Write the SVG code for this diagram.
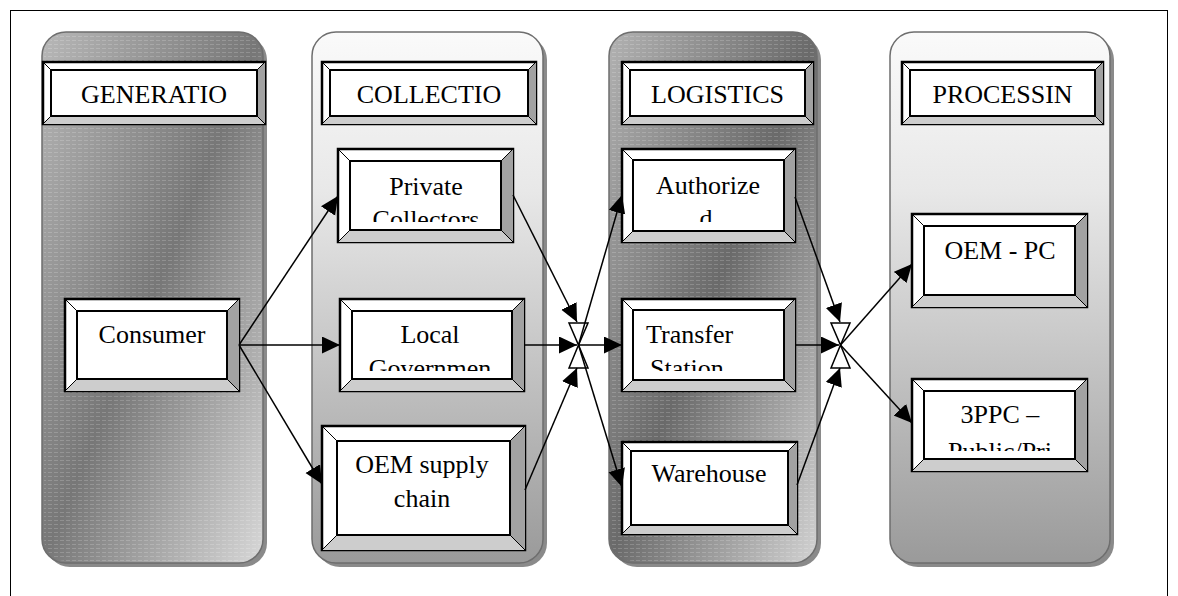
<svg xmlns="http://www.w3.org/2000/svg" width="1178" height="596" viewBox="0 0 1178 596">
<style>
.frame{fill:none;stroke:#000;stroke-width:1}
.col{stroke:#6e6e6e;stroke-width:1.5}
.shadow{fill:#8a8a8a}
.tex{fill:url(#tex);stroke:none}
.out{fill:#fff;stroke:#000;stroke-width:2.5}
.rb{fill:#a2a2a2;stroke:none}
.bb{fill:#cdcdcd;stroke:none}
.in{fill:#fff;stroke:#000;stroke-width:2}
.dg{stroke:#000;stroke-width:1;fill:none}
.t{font-family:"Liberation Serif","Times New Roman",serif;font-size:26px;fill:#000;text-anchor:middle}
.ts{text-anchor:start}
.ln{stroke:#000;stroke-width:1.5;fill:none;marker-end:url(#ah)}
.jn{fill:#fff;stroke:#000;stroke-width:1.5}
</style>
<defs>
<linearGradient id="gDark1" x1="0" y1="0" x2="1" y2="1">
<stop offset="0" stop-color="#b8b8b8"/><stop offset="0.5" stop-color="#777"/><stop offset="1" stop-color="#d8d8d8"/>
</linearGradient>
<linearGradient id="gDark3" x1="0" y1="0" x2="1" y2="1">
<stop offset="0" stop-color="#b2b2b2"/><stop offset="0.5" stop-color="#6a6a6a"/><stop offset="1" stop-color="#d2d2d2"/>
</linearGradient>
<linearGradient id="gLight" x1="0" y1="0" x2="0" y2="1">
<stop offset="0" stop-color="#fafafa"/><stop offset="0.3" stop-color="#e8e8e8"/><stop offset="1" stop-color="#9a9a9a"/>
</linearGradient>
<pattern id="tex" width="6" height="4" patternUnits="userSpaceOnUse">
<rect x="0" y="0" width="4" height="1" fill="#fff" fill-opacity="0.18"/>
</pattern>
<marker id="ah" markerUnits="userSpaceOnUse" markerWidth="20" markerHeight="18" refX="18" refY="8.5" orient="auto">
<path d="M0,0 L18,8.5 L0,17 z" fill="#000"/>
</marker>
<clipPath id="cPriv"><rect x="350" y="161" width="151" height="61"/></clipPath>
<clipPath id="cLocal"><rect x="352" y="311" width="160" height="60"/></clipPath>
<clipPath id="cAuth"><rect x="633" y="160" width="151" height="62"/></clipPath>
<clipPath id="cTrans"><rect x="633" y="310" width="151" height="61"/></clipPath>
<clipPath id="c3ppc"><rect x="924" y="391" width="151" height="60"/></clipPath>
</defs>

<rect class="frame" x="10.5" y="10.5" width="1157" height="600"/>

<g id="lane-generation">
<rect class="shadow" x="46" y="36" width="221" height="531" rx="24"/>
<rect class="col" x="42" y="32" width="221" height="531" rx="24" fill="url(#gDark1)"/>
<rect class="tex" x="44" y="34" width="217" height="527" rx="22"/>
</g>
<g id="lane-collection">
<rect class="shadow" x="316" y="36" width="231" height="531" rx="24"/>
<rect class="col" x="312" y="32" width="231" height="531" rx="24" fill="url(#gLight)"/>
</g>
<g id="lane-logistics">
<rect class="shadow" x="613" y="36" width="208" height="531" rx="24"/>
<rect class="col" x="609" y="32" width="208" height="531" rx="24" fill="url(#gDark3)"/>
<rect class="tex" x="611" y="34" width="204" height="527" rx="22"/>
</g>
<g id="lane-processing">
<rect class="shadow" x="894" y="36" width="220" height="531" rx="24"/>
<rect class="col" x="890" y="32" width="220" height="531" rx="24" fill="url(#gLight)"/>
</g>

<g id="header-generation">
<rect class="out" x="43" y="62" width="222" height="62"/>
<polygon class="rb" points="265,62 265,124 257,116 257,70"/>
<polygon class="bb" points="43,124 265,124 257,116 51,116"/>
<rect class="in" x="51" y="70" width="206" height="46"/>
<path class="dg" d="M43,62L51,70M265,62L257,70M43,124L51,116M265,124L257,116"/>
<text class="t" x="154" y="103">GENERATIO</text>
</g>
<g id="header-collection">
<rect class="out" x="322" y="62" width="214" height="62"/>
<polygon class="rb" points="536,62 536,124 528,116 528,70"/>
<polygon class="bb" points="322,124 536,124 528,116 330,116"/>
<rect class="in" x="330" y="70" width="198" height="46"/>
<path class="dg" d="M322,62L330,70M536,62L528,70M322,124L330,116M536,124L528,116"/>
<text class="t" x="429" y="103">COLLECTIO</text>
</g>
<g id="header-logistics">
<rect class="out" x="622" y="62" width="191" height="62"/>
<polygon class="rb" points="813,62 813,124 805,116 805,70"/>
<polygon class="bb" points="622,124 813,124 805,116 630,116"/>
<rect class="in" x="630" y="70" width="175" height="46"/>
<path class="dg" d="M622,62L630,70M813,62L805,70M622,124L630,116M813,124L805,116"/>
<text class="t" x="717.5" y="103">LOGISTICS</text>
</g>
<g id="header-processing">
<rect class="out" x="902" y="62" width="201" height="62"/>
<polygon class="rb" points="1103,62 1103,124 1095,116 1095,70"/>
<polygon class="bb" points="902,124 1103,124 1095,116 910,116"/>
<rect class="in" x="910" y="70" width="185" height="46"/>
<path class="dg" d="M902,62L910,70M1103,62L1095,70M902,124L910,116M1103,124L1095,116"/>
<text class="t" x="1002.5" y="103">PROCESSIN</text>
</g>

<g id="node-consumer">
<rect class="out" x="65" y="299" width="174" height="92"/>
<polygon class="rb" points="239,299 239,391 227,379 227,311"/>
<polygon class="bb" points="65,391 239,391 227,379 77,379"/>
<rect class="in" x="77" y="311" width="150" height="68"/>
<path class="dg" d="M65,299L77,311M239,299L227,311M65,391L77,379M239,391L227,379"/>
<text class="t" x="152" y="343">Consumer</text>
</g>
<g id="node-private">
<rect class="out" x="338" y="149" width="175" height="93"/>
<polygon class="rb" points="513,149 513,242 501,230 501,161"/>
<polygon class="bb" points="338,242 513,242 501,230 350,230"/>
<rect class="in" x="350" y="161" width="151" height="69"/>
<path class="dg" d="M338,149L350,161M513,149L501,161M338,242L350,230M513,242L501,230"/>
<g clip-path="url(#cPriv)"><text class="t" x="426" y="195">Private</text><text class="t" x="426" y="228">Collectors</text></g>
</g>
<g id="node-local">
<rect class="out" x="340" y="299" width="184" height="92"/>
<polygon class="rb" points="524,299 524,391 512,379 512,311"/>
<polygon class="bb" points="340,391 524,391 512,379 352,379"/>
<rect class="in" x="352" y="311" width="160" height="68"/>
<path class="dg" d="M340,299L352,311M524,299L512,311M340,391L352,379M524,391L512,379"/>
<g clip-path="url(#cLocal)"><text class="t" x="430" y="343">Local</text><text class="t" x="430" y="377">Governmen</text></g>
</g>
<g id="node-oem-supply">
<rect class="out" x="322" y="426" width="203" height="124"/>
<polygon class="rb" points="525,426 525,550 510,535 510,441"/>
<polygon class="bb" points="322,550 525,550 510,535 337,535"/>
<rect class="in" x="337" y="441" width="173" height="94"/>
<path class="dg" d="M322,426L337,441M525,426L510,441M322,550L337,535M525,550L510,535"/>
<text class="t" x="422" y="473">OEM supply</text>
<text class="t" x="422" y="507">chain</text>
</g>
<g id="node-authorized">
<rect class="out" x="622" y="149" width="173" height="93"/>
<polygon class="rb" points="795,149 795,242 784,231 784,160"/>
<polygon class="bb" points="622,242 795,242 784,231 633,231"/>
<rect class="in" x="633" y="160" width="151" height="71"/>
<path class="dg" d="M622,149L633,160M795,149L784,160M622,242L633,231M795,242L784,231"/>
<g clip-path="url(#cAuth)"><text class="t" x="708" y="194">Authorize</text><text class="t" x="706" y="227">d</text></g>
</g>
<g id="node-transfer">
<rect class="out" x="622" y="299" width="173" height="92"/>
<polygon class="rb" points="795,299 795,391 784,380 784,310"/>
<polygon class="bb" points="622,391 795,391 784,380 633,380"/>
<rect class="in" x="633" y="310" width="151" height="70"/>
<path class="dg" d="M622,299L633,310M795,299L784,310M622,391L633,380M795,391L784,380"/>
<g clip-path="url(#cTrans)"><text class="t ts" x="646" y="343">Transfer</text><text class="t ts" x="650" y="377">Station</text></g>
</g>
<g id="node-warehouse">
<rect class="out" x="622" y="442" width="175" height="92"/>
<polygon class="rb" points="797,442 797,534 788,525 788,451"/>
<polygon class="bb" points="622,534 797,534 788,525 631,525"/>
<rect class="in" x="631" y="451" width="157" height="74"/>
<path class="dg" d="M622,442L631,451M797,442L788,451M622,534L631,525M797,534L788,525"/>
<text class="t" x="709" y="482">Warehouse</text>
</g>
<g id="node-oem-pc">
<rect class="out" x="912" y="214" width="175" height="93"/>
<polygon class="rb" points="1087,214 1087,307 1075,295 1075,226"/>
<polygon class="bb" points="912,307 1087,307 1075,295 924,295"/>
<rect class="in" x="924" y="226" width="151" height="69"/>
<path class="dg" d="M912,214L924,226M1087,214L1075,226M912,307L924,295M1087,307L1075,295"/>
<text class="t" x="1000" y="259">OEM - PC</text>
</g>
<g id="node-3ppc">
<rect class="out" x="912" y="379" width="175" height="92"/>
<polygon class="rb" points="1087,379 1087,471 1075,459 1075,391"/>
<polygon class="bb" points="912,471 1087,471 1075,459 924,459"/>
<rect class="in" x="924" y="391" width="151" height="68"/>
<path class="dg" d="M912,379L924,391M1087,379L1075,391M912,471L924,459M1087,471L1075,459"/>
<g clip-path="url(#c3ppc)"><text class="t" x="1000" y="423">3PPC –</text><text class="t" x="1000" y="460">Public/Pri</text></g>
</g>

<g id="connectors">
<polygon class="jn" points="569,323 588,323 578.5,345"/>
<polygon class="jn" points="569,368 588,368 578.5,345"/>
<polygon class="jn" points="831,323 850,323 840.5,345"/>
<polygon class="jn" points="831,368 850,368 840.5,345"/>
<path class="ln" d="M239,345 L338,196"/>
<path class="ln" d="M239,345 L340,345"/>
<path class="ln" d="M239,345 L322,484"/>
<path class="ln" d="M513,195 L577,322"/>
<path class="ln" d="M524,345 L577,345"/>
<path class="ln" d="M525,490 L577,368"/>
<path class="ln" d="M578.5,345 L622,195"/>
<path class="ln" d="M578.5,345 L622,345"/>
<path class="ln" d="M578.5,345 L622,487"/>
<path class="ln" d="M795,197 L840,322"/>
<path class="ln" d="M795,345 L839,345"/>
<path class="ln" d="M797,485 L840,368"/>
<path class="ln" d="M840.5,345 L912,264"/>
<path class="ln" d="M840.5,345 L912,423"/>
</g>
</svg>
